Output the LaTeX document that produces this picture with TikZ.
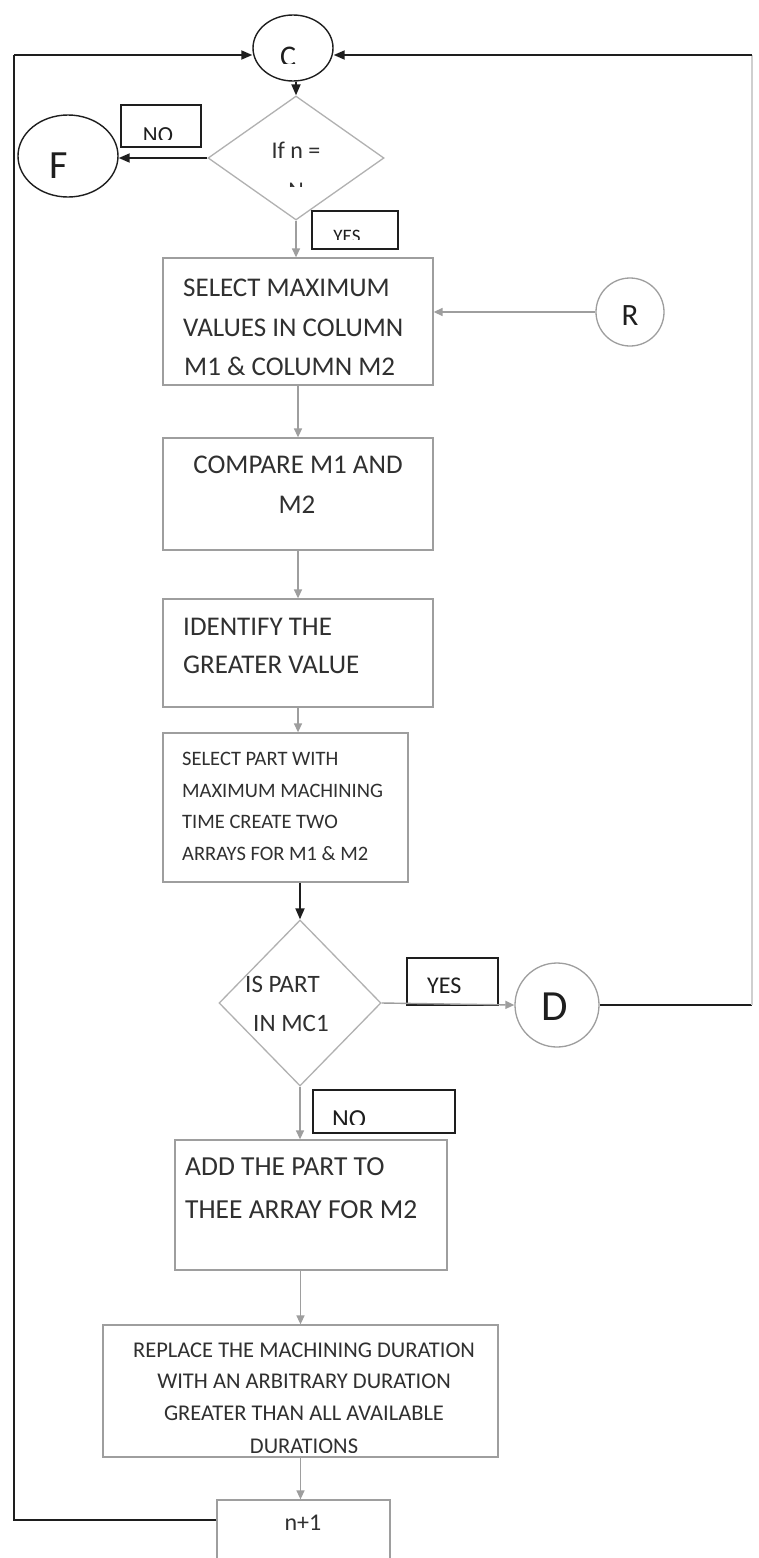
\documentclass[tikz,border=0pt]{standalone}
\usepackage{fontspec}
\setmainfont{Carlito}
\usetikzlibrary{shapes.geometric,arrows.meta}
\definecolor{ink}{HTML}{1E1E1E}
\definecolor{frame}{HTML}{9E9E9E}
\definecolor{txt}{HTML}{303030}
\definecolor{faint}{HTML}{CFCFCF}
\newcommand{\fs}[1]{\fontsize{#1}{#1}\selectfont}

\begin{document}
\begin{tikzpicture}[x=1pt,y=-1pt,
  box/.style={draw=frame,line width=1.3pt,rectangle,inner sep=0pt},
  tagbox/.style={draw=ink,line width=1.4pt,rectangle,inner sep=0pt},
  decision/.style={draw=frame!80,line width=1.3pt,diamond,inner sep=0pt},
  darkring/.style={draw=ink,line width=1.4pt,ellipse,inner sep=0pt},
  lightring/.style={draw=frame,line width=1.3pt,circle,inner sep=0pt},
  btxt/.style={text=txt,inner sep=0pt},
  ltxt/.style={text=ink,inner sep=0pt},
  darkline/.style={draw=ink,line width=1.8pt},
  darkarrow/.style={darkline,-{Triangle[length=11pt,width=9pt]}},
  grayarrow/.style={draw=frame,line width=1.4pt,-{Triangle[length=9pt,width=8pt]}}]

\useasboundingbox[fill=white] (0,0) rectangle (758,1558);

% connector circles
\node[darkring,minimum width=80pt,minimum height=66pt] (C) at (293,48) {};
\node[darkring,minimum width=100pt,minimum height=82pt] (F) at (68,156) {};
\node[lightring,minimum size=68pt] (R) at (630,312) {};
\node[lightring,minimum size=84pt] (D) at (557,1005) {};

% decisions
\node[decision,minimum width=176pt,minimum height=124pt] (d1) at (296,158) {};
\node[decision,minimum width=162pt,minimum height=166pt] (d2) at (300,1003) {};

% answer tags
\node[tagbox,minimum width=80pt,minimum height=42pt] (no1) at (161,126) {};
\node[tagbox,minimum width=86pt,minimum height=38pt] (yes1) at (355,230) {};
\node[tagbox,minimum width=91pt,minimum height=47pt] (yes2) at (452.5,981.5) {};
\node[tagbox,minimum width=142pt,minimum height=43pt] (no2) at (384,1111.5) {};

% process boxes
\node[box,minimum width=270pt,minimum height=127pt] (b1) at (298,321.5) {};
\node[box,minimum width=270pt,minimum height=112pt] (b2) at (298,494) {};
\node[box,minimum width=270pt,minimum height=108pt] (b3) at (298,653) {};
\node[box,minimum width=245pt,minimum height=149pt] (b4) at (285.5,807.5) {};
\node[box,minimum width=272pt,minimum height=130pt] (b5) at (311,1205) {};
\node[box,minimum width=395pt,minimum height=132pt] (b6) at (300.5,1391) {};
\node[box,minimum width=173pt,minimum height=80pt] (n1) at (303.5,1540) {};

% texts of the circles and the decisions
\begin{scope}
  \clip (250,20) rectangle (340,63);
  \node[ltxt,font=\fs{30},anchor=base] (tc) at (288,66) {C};
\end{scope}
\node[ltxt,font=\fs{40},anchor=base] (tf) at (59,178) {F};
\node[ltxt,font=\fs{31},anchor=base] (tr) at (630,325) {R};
\node[ltxt,font=\fs{43},anchor=base] (td) at (555,1020) {D};
\node[btxt,font=\fs{24},anchor=base] (td1a) at (296,158) {If n =};
\begin{scope}
  \clip (260,170) rectangle (330,186);
  \node[btxt,font=\fs{24},anchor=base] (td1b) at (296,198) {N};
\end{scope}
\node[btxt,font=\fs{25},anchor=base west] (td2a) at (245,992) {IS PART};
\node[btxt,font=\fs{25},anchor=base west] (td2b) at (253,1031) {IN MC1};

% texts of the tags
\begin{scope}
  \clip (125,110) rectangle (198,139);
  \node[ltxt,font=\fs{23},anchor=base] (tno1) at (158,142) {NO};
\end{scope}
\begin{scope}
  \clip (315,214) rectangle (395,239);
  \node[ltxt,font=\fs{19},anchor=base] (tyes1) at (347,242) {YES};
\end{scope}
\node[ltxt,font=\fs{24},anchor=base west] (tyes2) at (427,993) {YES};
\begin{scope}
  \clip (316,1093) rectangle (452,1124);
  \node[ltxt,font=\fs{26},anchor=base west] (tno2) at (332,1127) {NO};
\end{scope}

% texts of the process boxes
\node[btxt,font=\fs{27},anchor=base west] (t1a) at (183,296) {SELECT MAXIMUM};
\node[btxt,font=\fs{27},anchor=base west] (t1b) at (183,336) {VALUES IN COLUMN};
\node[btxt,font=\fs{27},anchor=base west] (t1c) at (184,375) {M1 \& COLUMN M2};
\node[btxt,font=\fs{27},anchor=base] (t2a) at (298,473) {COMPARE M1 AND};
\node[btxt,font=\fs{27},anchor=base] (t2b) at (297,513) {M2};
\node[btxt,font=\fs{27},anchor=base west] (t3a) at (183,635) {IDENTIFY THE};
\node[btxt,font=\fs{27},anchor=base west] (t3b) at (183,673) {GREATER VALUE};
\node[btxt,font=\fs{20.5},anchor=base west] (t4a) at (182,765) {SELECT PART WITH};
\node[btxt,font=\fs{20.5},anchor=base west] (t4b) at (182,797) {MAXIMUM MACHINING};
\node[btxt,font=\fs{20.5},anchor=base west] (t4c) at (182,828) {TIME CREATE TWO};
\node[btxt,font=\fs{20.5},anchor=base west] (t4d) at (182,860) {ARRAYS FOR M1 \& M2};
\node[btxt,font=\fs{27.5},anchor=base west] (t5a) at (185,1175) {ADD THE PART TO};
\node[btxt,font=\fs{27.5},anchor=base west] (t5b) at (185,1218) {THEE ARRAY FOR M2};
\node[btxt,font=\fs{22.5},anchor=base] (t6a) at (304,1357) {REPLACE THE MACHINING DURATION};
\node[btxt,font=\fs{22.5},anchor=base] (t6b) at (304,1388) {WITH AN ARBITRARY DURATION};
\node[btxt,font=\fs{22.5},anchor=base] (t6c) at (304,1420) {GREATER THAN ALL AVAILABLE};
\begin{scope}
  \clip (110,1430) rectangle (490,1452);
  \node[btxt,font=\fs{22.5},anchor=base] (t6d) at (304,1453) {DURATIONS};
\end{scope}
\node[btxt,font=\fs{24},anchor=base] (tn1) at (303,1530) {n+1};

% loop corners
\coordinate (lb) at (14,1520);
\coordinate (lt) at (14,55);
\coordinate (rb) at (752,1005);
\coordinate (rt) at (752,55);

% connectors
\draw[darkarrow] (d1.north |- C.south) -- (d1.north);
\draw[darkarrow] (d1.west) -- (d1.west -| F.east);
\draw[grayarrow] (d1.south) -- (d1.south |- b1.north);
\draw[grayarrow] (R.west) -- (R.west -| b1.east);
\draw[grayarrow] (b1.south) -- (b2.north);
\draw[grayarrow] (b2.south) -- (b3.north);
\draw[grayarrow] (b3.south) -- (b3.south |- b4.north);
\draw[darkarrow] (d2.north |- b4.south) -- (d2.north);
\draw[grayarrow] (d2.east) -- (D.west);
\draw[grayarrow] (d2.south) -- (d2.south |- b5.north);
\draw[grayarrow] (b6.north |- b5.south) -- (b6.north);
\draw[grayarrow] (b6.south) -- (b6.south |- n1.north);
\draw[darkline] (lb -| n1.west) -- (lb) -- (lt);
\draw[darkarrow] (lt) -- (lt -| C.west);
\draw[darkline] (D.east) -- (rb);
\draw[draw=faint,line width=1.4pt] (rb) -- (rt);
\draw[darkarrow] (rt) -- (rt -| C.east);
\end{tikzpicture}
\end{document}
